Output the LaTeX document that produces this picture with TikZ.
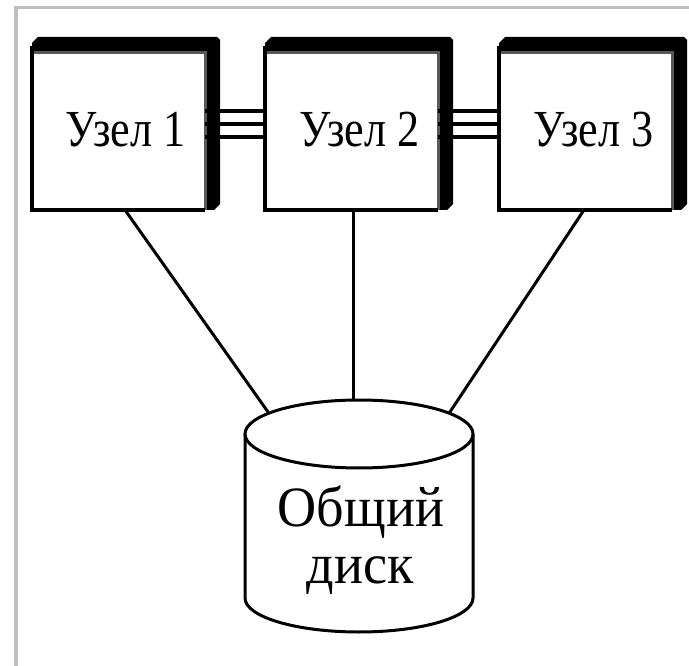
\documentclass[tikz,border=0pt]{standalone}
\usepackage{fontspec}
\setmainfont{Liberation Serif}
\newfontfamily\nodefont[FakeStretch=0.85]{Liberation Serif}
\newfontfamily\diskfont[FakeStretch=0.95]{Liberation Serif}
\usetikzlibrary{shapes.geometric}
\definecolor{framegray}{HTML}{BEBEBE}
\definecolor{edgegray}{HTML}{585858}
\begin{document}
\begin{tikzpicture}[x=1pt,y=-1pt,
  frameline/.style={draw=framegray,line width=3.8pt},
  face/.style={draw=none,fill=white,minimum width=173pt,minimum height=157.5pt,inner sep=0pt,outer sep=0pt},
  darkedge/.style={draw=black,line width=3.5pt},
  lightedge/.style={draw=edgegray,line width=3pt},
  nodelabel/.style={font=\nodefont\fontsize{52}{56}\selectfont,inner sep=0pt,anchor=base},
  disklabel/.style={font=\diskfont\fontsize{57}{60}\selectfont,inner sep=0pt,anchor=base},
  wire/.style={draw=black,line width=3pt},
  busline/.style={draw=black,line width=3.8pt},
  diskline/.style={draw=black,line width=3pt}]
\useasboundingbox (0,0) rectangle (689,666);
\fill[white] (0,0) rectangle (689,666);
% frame
\draw[frameline] (16,666) -- (16,7.5) -- (689,7.5);
% boxes
\foreach \i/\L in {1/32,2/265,3/499}{
  \pgfmathsetmacro{\R}{\L+173}
  \fill[black] (\L,43) -- (\L+6,37) -- (\R+12,37) -- (\R+15,40) -- (\R+15,204) -- (\R+9,210) -- (\R,210) -- (\R,52.5) -- (\L,52.5) -- cycle;
  \node[face] (n\i) at (\L+86.5,131.25) {};
  \draw[lightedge] (n\i.north west) -- (n\i.north east) -- (n\i.south east);
  \draw[darkedge] (n\i.north west) ++(0,-6) -- (n\i.south west) -- (n\i.south east);
}
\node[nodelabel] (t1) at ([xshift=7pt,yshift=-15pt]n1.center) {Узел 1};
\node[nodelabel] (t2) at ([xshift=8pt,yshift=-15pt]n2.center) {Узел 2};
\node[nodelabel] (t3) at ([xshift=8pt,yshift=-15pt]n3.center) {Узел 3};
% triple links
\foreach \s in {20,7,-6}{
  \draw[busline] ([yshift=\s pt]n1.east) -- ([yshift=\s pt]n2.west);
  \draw[busline] ([yshift=\s pt]n2.east) -- ([yshift=\s pt]n3.west);
}
% disk
\draw[diskline,fill=white] (245,434) -- (245,598) arc[start angle=180,end angle=0,x radius=114,y radius=34] -- (473,434);
\node[ellipse,diskline,fill=white,minimum width=228pt,minimum height=68pt,inner sep=0pt,outer sep=0pt] (top) at (359,434) {};
\node[disklabel] (d1) at (361,526) {Общий};
\node[disklabel] (d2) at (360,583) {диск};
% connectors
\coordinate (b1) at ([xshift=6.5pt]n1.south);
\coordinate (b2) at ([xshift=1.5pt]n2.south);
\coordinate (b3) at ([xshift=-1.5pt]n3.south);
\draw[wire] (b1) -- (top.167);
\draw[wire] (b2) -- (b2 |- top.north);
\draw[wire] (b3) -- (top.13);
\end{tikzpicture}
\end{document}
